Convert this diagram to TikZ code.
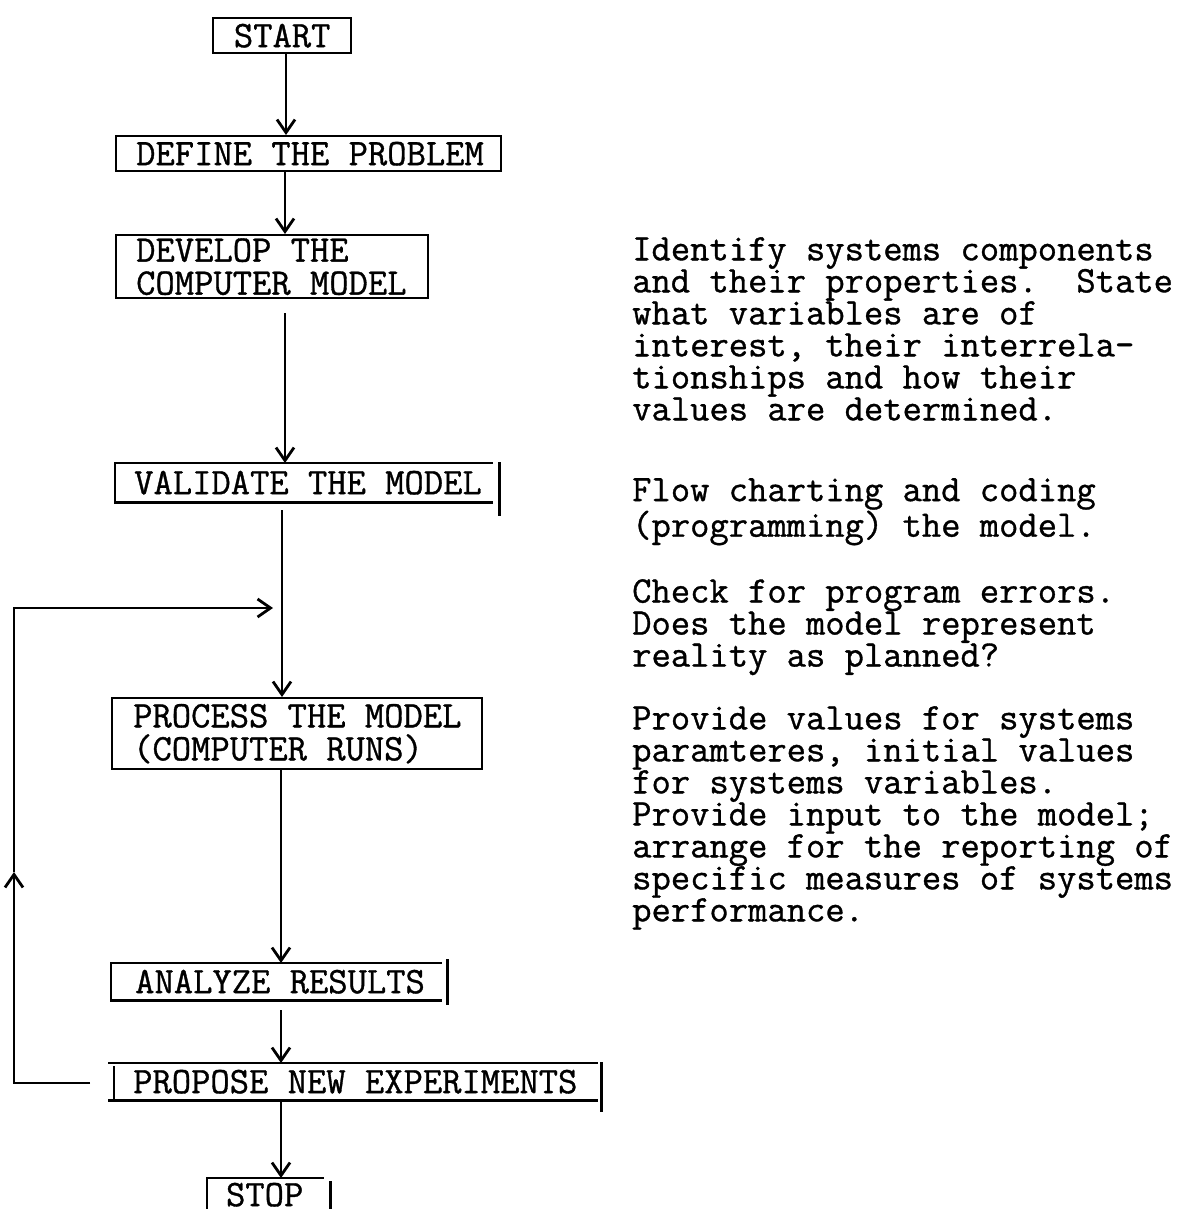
\documentclass[tikz,border=0pt]{standalone}
\usepackage{fontspec}
\newfontfamily\twfont{lmmono12-regular.otf}[FakeBold=0.9]
\newcommand{\tws}{\spaceskip=\fontdimen2\font\xspaceskip=\fontdimen2\font\relax}
\usetikzlibrary{arrows.meta,calc}
\begin{document}
\begin{tikzpicture}[x=1pt,y=-1pt,
  tw/.style={font=\twfont\fontsize{37.5}{33}\selectfont},
  rt/.style={font=\twfont\fontsize{37.5}{32}\selectfont\frenchspacing, anchor=north west, inner sep=0pt, align=left},
  boxn/.style={tw, anchor=north west, inner xsep=0pt, inner ysep=0pt, align=left, line width=2.4pt},
  full/.style={boxn, draw},
  edge/.style={line width=2.4pt, line cap=rect},
  arr/.style={line width=2.8pt, -{Straight Barb[length=13pt,width=18pt]}}
]
\useasboundingbox (0,0) rectangle (1178,1209);
\fill[white] (0,0) rectangle (1178,1209);

% boxes
\node[full, text width=138pt, minimum height=35pt, align=center] (start) at (212,17) {START};
\node[full, text width=385pt, minimum height=35pt] (define) at (115,135) {\tws\hspace*{20pt}DEFINE THE PROBLEM};
\node[full, text width=312pt, minimum height=63pt] (develop) at (115,234) {\tws\hspace*{20pt}DEVELOP THE\\\hspace*{20pt}COMPUTER MODEL};
\node[boxn, text width=374pt, minimum height=37pt] (validate) at (115,463) {\tws\hspace*{18pt}VALIDATE THE MODEL};
\node[full, text width=370pt, minimum height=71pt] (process) at (111,697) {\tws\hspace*{21pt}PROCESS THE MODEL\\\hspace*{21pt}(COMPUTER RUNS)};
\node[boxn, text width=327pt, minimum height=35pt] (analyze) at (111,963) {\tws\hspace*{23pt}ANALYZE RESULTS};
\node[boxn, text width=485pt, minimum height=35pt] (propose) at (109,1063) {\tws\hspace*{23pt}PROPOSE NEW EXPERIMENTS};
\node[boxn, text width=113pt, minimum height=31pt, align=center] (stop) at (207,1178) {STOP};

% open box outlines
\draw[edge] (validate.north east) -- (validate.north west) -- (validate.south west) -- (validate.south east);
\draw[edge] ([xshift=8pt]validate.north east) -- ([xshift=8pt,yshift=-12pt]validate.south east);
\draw[edge] (analyze.north east) -- (analyze.north west) -- (analyze.south west) -- (analyze.south east);
\draw[edge] ([xshift=7pt,yshift=3pt]analyze.north east) -- ([xshift=7pt,yshift=-3pt]analyze.south east);
\draw[edge] (propose.north west) -- (propose.north east);
\draw[edge] (propose.south west) -- (propose.south east);
\draw[edge] ([xshift=5pt,yshift=-4pt]propose.north west) -- ([xshift=5pt,yshift=3pt]propose.south west);
\draw[edge] ([xshift=5pt]propose.north east) -- ([xshift=5pt,yshift=-10pt]propose.south east);
\draw[edge] ([yshift=-12pt]stop.south west) -- (stop.north west) -- (stop.north east);
\draw[edge] ([xshift=8pt,yshift=-4pt]stop.north east) -- ([xshift=8pt,yshift=-12pt]stop.south east);

% connector columns
\coordinate (xa) at (286,0);
\coordinate (xb) at (285,0);
\coordinate (xc) at (282,0);
\coordinate (xd) at (281,0);

\draw[arr] (start.south -| xa) -- (define.north -| xa);
\draw[arr] (define.south -| xb) -- (develop.north -| xb);
\draw[arr, shorten <=14pt] (develop.south -| xb) -- (validate.north -| xb);
\draw[arr, shorten <=8pt] (validate.south -| xc) -- (process.north -| xc);
\draw[arr] (process.south -| xd) -- (analyze.north -| xd);
\draw[arr, shorten <=10pt] (analyze.south -| xd) -- (propose.north -| xd);
\draw[arr] (propose.south -| xd) -- (stop.north -| xd);

% feedback loop
\coordinate (fbA) at (90,1083);
\coordinate (fbB) at (14,1083);
\coordinate (fbC) at (14,872);
\coordinate (fbD) at (14,608);
\coordinate (fbE) at (273,608);
\draw[arr] (fbA) -- (fbB) -- (fbC);
\draw[arr] (fbC) -- (fbD) -- (fbE);

% descriptions
\node[rt] (d1) at (632,237) {Identify systems components\\and their properties.\ \ State\\what variables are of\\interest, their interrela-\\tionships and how their\\values are determined.};
\node[rt] (d2) at (632,478) {Flow charting and coding\\(programming) the model.};
\node[rt] (d3) at (632,579) {Check for program errors.\\Does the model represent\\reality as planned?};
\node[rt] (d4) at (632,706) {Provide values for systems\\paramteres, initial values\\for systems variables.\\Provide input to the model;\\arrange for the reporting of\\specific measures of systems\\performance.};
\end{tikzpicture}
\end{document}
